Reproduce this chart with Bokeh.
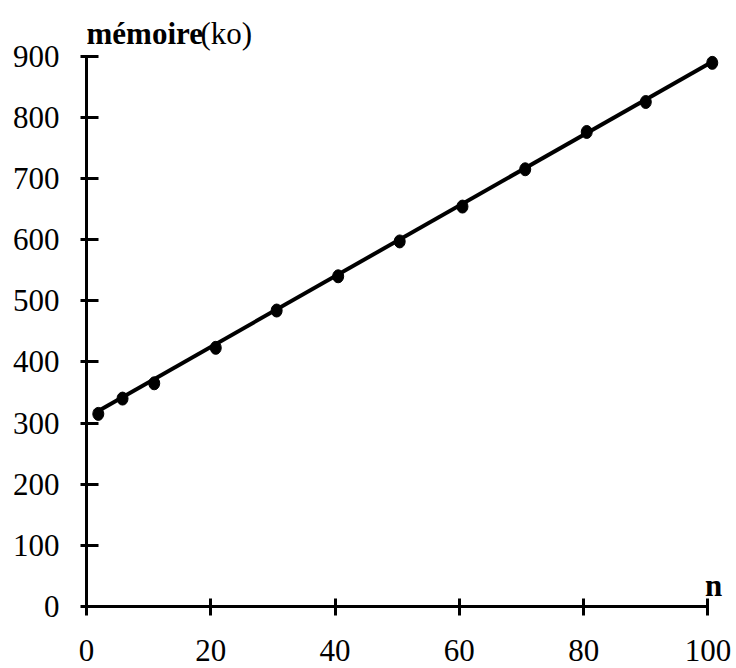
from bokeh.plotting import figure
from bokeh.models import FixedTicker, Label, Range1d
from bokeh.embed import file_html
from bokeh.resources import INLINE

# data
n_values = [1.9, 5.8, 10.9, 20.8, 30.6, 40.5, 50.4, 60.5, 70.6, 80.5, 90.0, 100.7]
memoire_ko = [315, 340, 365, 423, 484, 540, 597, 654, 715, 776, 825, 889]
trend_n = [1.4, 100.7]
trend_ko = [317, 891]
x_ticks = [0, 20, 40, 60, 80, 100]
y_ticks = [0, 100, 200, 300, 400, 500, 600, 700, 800, 900]

FONT = "Liberation Serif"
FS = "31px"

p = figure(width=736, height=668, output_backend="svg", toolbar_location=None,
           x_range=Range1d(0, 104.6), y_range=Range1d(0, 991),
           min_border_left=86, min_border_right=0, min_border_top=0, min_border_bottom=62)
p.outline_line_color = None
p.xgrid.visible = False
p.ygrid.visible = False
p.background_fill_color = "white"
p.border_fill_color = "white"

for ax in (p.xaxis[0], p.yaxis[0]):
    ax.axis_line_width = 3
    ax.axis_line_color = "black"
    ax.major_tick_line_width = 3
    ax.major_tick_line_color = "black"
    ax.minor_tick_line_color = None
    ax.major_label_text_font = FONT
    ax.major_label_text_font_size = FS
    ax.major_label_text_color = "black"

p.xaxis[0].ticker = FixedTicker(ticks=x_ticks)
p.xaxis[0].bounds = (0, 100)
p.xaxis[0].major_tick_in = 8
p.xaxis[0].major_tick_out = 9
p.xaxis[0].major_label_standoff = 24

p.yaxis[0].ticker = FixedTicker(ticks=y_ticks)
p.yaxis[0].bounds = (0, 900)
p.yaxis[0].major_tick_in = 12
p.yaxis[0].major_tick_out = 6
p.yaxis[0].major_label_standoff = 21

p.line(trend_n, trend_ko, line_color="black", line_width=4)
p.ellipse(x=n_values, y=memoire_ko, width=11, height=13,
          width_units="screen", height_units="screen",
          fill_color="black", line_color="black")

p.add_layout(Label(x=0, y=937, x_offset=0, text="mémoire", text_font=FONT,
                   text_font_size=FS, text_font_style="bold", text_color="black",
                   text_baseline="alphabetic", text_align="left"))
p.add_layout(Label(x=0, y=937, x_offset=114, text="(ko)", text_font=FONT,
                   text_font_size=FS, text_color="black",
                   text_baseline="alphabetic", text_align="left"))
p.add_layout(Label(x=100.9, y=34, text="n", text_font=FONT,
                   text_font_size=FS, text_font_style="bold", text_color="black",
                   text_baseline="alphabetic", text_align="center"))

open("out.html", "w").write(file_html(p, INLINE))
